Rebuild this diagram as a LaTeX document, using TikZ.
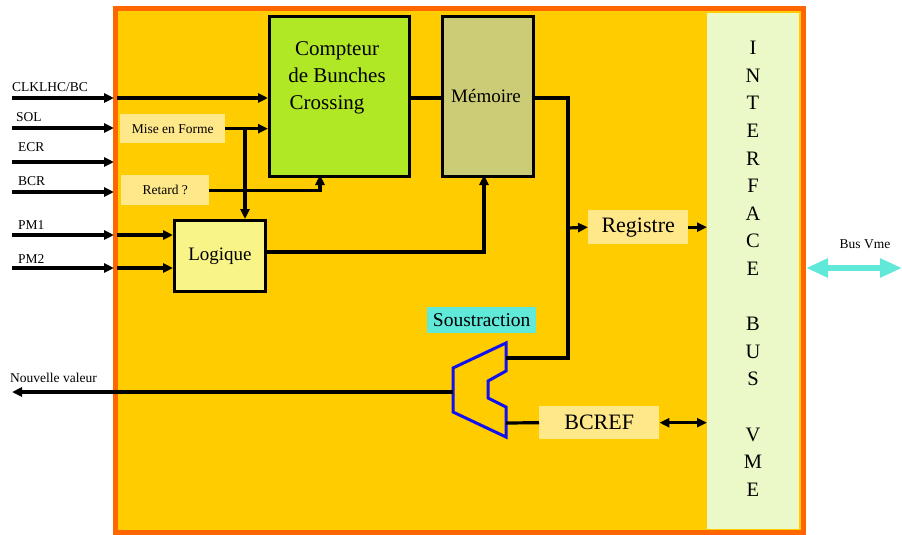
\documentclass[tikz,border=0pt]{standalone}
\usepackage{fontspec}
\setmainfont{Liberation Serif}
\usetikzlibrary{arrows.meta}
\definecolor{bgorange}{HTML}{FFCC00}
\definecolor{frame}{HTML}{FF6600}
\definecolor{ifgreen}{HTML}{EBF8C8}
\definecolor{lime}{HTML}{B0E826}
\definecolor{khaki}{HTML}{CCCC77}
\definecolor{pale}{HTML}{FFE88A}
\definecolor{logic}{HTML}{F8F488}
\definecolor{turq}{HTML}{60E8D8}
\definecolor{subblue}{HTML}{1010F0}
\begin{document}
\begin{tikzpicture}[x=1pt,y=-1pt,
  blk/.style={draw=black,line width=3pt,inner sep=0pt,anchor=north west},
  lab/.style={fill=pale,inner sep=0pt,anchor=north west},
  sig/.style={line width=3.2pt},
  arr/.style={line width=3.2pt,-{Triangle[length=10pt,width=9pt]}},
  darr/.style={line width=3.2pt,{Triangle[length=10pt,width=9pt]}-{Triangle[length=10pt,width=9pt]}},
  txt/.style={font=\fontsize{13.5}{15}\selectfont,inner sep=0pt}]
\useasboundingbox (0,0) rectangle (902,535);
% frame
\draw[frame,fill=bgorange,line width=5pt] (115,9) rectangle (803,532);
\node[fill=ifgreen,inner sep=0pt,anchor=north west,minimum width=92pt,minimum height=516pt] (iface) at (707,13) {};
\node[font=\fontsize{20.5}{27.6}\selectfont,align=center,anchor=north,inner sep=0pt] (iftext) at (753,41)
  {I\\N\\T\\E\\R\\F\\A\\C\\E\\[27.6pt]B\\U\\S\\[27.6pt]V\\M\\E};
% main blocks
\node[blk,fill=lime,minimum width=140pt,minimum height=160pt] (cpt) at (268,15) {};
\node[font=\fontsize{21}{27}\selectfont,align=center,inner sep=0pt,anchor=north] at (337,41) {Compteur\\de Bunches\\Crossing\hspace*{20pt}};
\node[blk,fill=khaki,minimum width=91pt,minimum height=160pt] (mem) at (441,15) {};
\node[font=\fontsize{19}{22}\selectfont,inner sep=0pt] at (486,96) {Mémoire};
\node[blk,fill=logic,minimum width=91pt,minimum height=71pt,font=\fontsize{19}{22}\selectfont] (log) at (173,219) {Logique};
\node[lab,minimum width=105pt,minimum height=29pt,font=\fontsize{13.5}{15}\selectfont] (mef) at (120,114) {Mise en Forme};
\node[lab,minimum width=88pt,minimum height=30pt,font=\fontsize{13.5}{15}\selectfont] (ret) at (121,175) {Retard ?};
\node[lab,minimum width=100pt,minimum height=34pt,font=\fontsize{22}{24}\selectfont] (reg) at (588,210) {Registre};
\node[lab,minimum width=120pt,minimum height=33pt,font=\fontsize{22}{24}\selectfont] (bcref) at (539,406) {BCREF};
\node[fill=turq,inner sep=0pt,anchor=north west,minimum width=109pt,minimum height=26pt,font=\fontsize{19.5}{21}\selectfont] (sous) at (427,307) {Soustraction};
% subtractor shape
\draw[subblue,line width=3pt,line join=miter] (453,368) -- (506,343) -- (506,371) -- (488,381) -- (488,398) -- (506,407) -- (506,437) -- (453,412) -- cycle;
\coordinate (subA) at (506,358);
\coordinate (subB) at (506,423);
\coordinate (subO) at (453,392);
% input labels
\node[txt,anchor=base west] (lclk) at (12,92) {CLKLHC/BC};
\node[txt,anchor=base west] (lsol) at (16,121) {SOL};
\node[txt,anchor=base west] (lecr) at (18,151) {ECR};
\node[txt,anchor=base west] (lbcr) at (18,185) {BCR};
\node[txt,anchor=base west] (lpm1) at (18,229) {PM1};
\node[txt,anchor=base west] (lpm2) at (18,263) {PM2};
\node[txt,anchor=base west] (lnv) at (10,382) {Nouvelle valeur};
\node[txt,anchor=base] (lbus) at (865,248) {Bus Vme};
% external ends
\coordinate (i1) at (12,98); \coordinate (e1) at (114,98);
\coordinate (i2) at (12,128); \coordinate (e2) at (114,128);
\coordinate (i3) at (12,162); \coordinate (e3) at (114,162);
\coordinate (i4) at (12,192); \coordinate (e4) at (114,192);
\coordinate (i5) at (12,235); \coordinate (e5) at (114,235);
\coordinate (i6) at (12,268); \coordinate (e6) at (114,268);
\coordinate (o1) at (12,392); \coordinate (f1) at (117,392);
\coordinate (f5) at (117,235); \coordinate (f6) at (117,268); \coordinate (f0) at (117,98);
\foreach \a/\b in {i1/e1,i2/e2,i3/e3,i4/e4,i5/e5,i6/e6} \draw[arr] (\a) -- (\b);
\draw[arr] (f0) -- (f0 -| cpt.west);
\draw[arr] (mef.east) -- (mef.east -| cpt.west);
\draw[arr] (245,128) -- (245,219);
\draw[arr] (ret.east) -| (320,175);
\draw[arr] (f5) -- (f5 -| log.west);
\draw[arr] (f6) -- (f6 -| log.west);
\draw[arr] (log.east |- 0,252) -| (484,175);
\draw[sig] (cpt.east |- 0,98) -- (mem.west |- 0,98);
\draw[sig] (mem.east |- 0,98) -| (568,228) -- (568,358) -- (subA);
\draw[arr] (568,228) -- (reg.west);
\draw[arr] (reg.east) -- (reg.east -| iface.west);
\draw[sig] (subB) -- (bcref.west);
\draw[darr] (bcref.east) -- (bcref.east -| iface.west);
\draw[sig,-{Triangle[length=10pt,width=9pt]}] (subO) -- (o1);
% bus vme
\coordinate (b1) at (806,268); \coordinate (b2) at (902,268);
\draw[turq,line width=6pt,{Triangle[length=22pt,width=18pt]}-{Triangle[length=22pt,width=18pt]}] (b1) -- (b2);
\end{tikzpicture}
\end{document}
